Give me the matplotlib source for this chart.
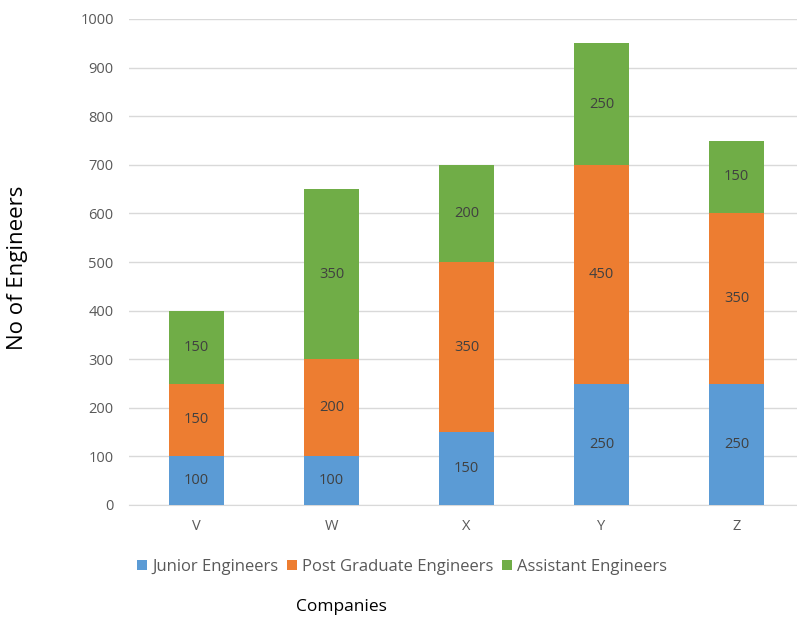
import matplotlib
matplotlib.use("Agg")
import matplotlib.pyplot as plt
import numpy as np

companies = ["V", "W", "X", "Y", "Z"]
junior = [100, 100, 150, 250, 250]
post_grad = [150, 200, 350, 450, 350]
assistant = [150, 350, 200, 250, 150]

series = [
    ("Junior Engineers", junior, "#5B9BD5"),
    ("Post Graduate Engineers", post_grad, "#ED7D31"),
    ("Assistant Engineers", assistant, "#70AD47"),
]

plt.rcParams["font.family"] = ["Open Sans", "DejaVu Sans"]
grey = "#595959"

fig = plt.figure(figsize=(7.97, 6.21), dpi=100)
ax = fig.add_axes([129 / 797, 116 / 621, 675 / 797, 486 / 621])

x = np.arange(len(companies))
bottom = np.zeros(len(companies))
handles = []
for name, vals, col in series:
    vals = np.array(vals, dtype=float)
    bars = ax.bar(x, vals, width=0.41, bottom=bottom, color=col, label=name, zorder=2)
    handles.append(bars)
    for xi, b, v in zip(x, bottom, vals):
        ax.text(xi, b + v / 2, f"{int(v)}", ha="center", va="center",
                fontsize=10.5, color="#404040", zorder=3)
    bottom += vals

ax.set_xlim(-0.5, len(companies) - 0.5)
ax.set_ylim(0, 1000)
ax.set_yticks(np.arange(0, 1001, 100))
ax.set_xticks(x, companies)
ax.grid(axis="y", color="#D9D9D9", linewidth=1, zorder=0)
ax.set_axisbelow(True)
for s in ["top", "right", "left"]:
    ax.spines[s].set_visible(False)
ax.spines["bottom"].set_color("#D9D9D9")
ax.spines["bottom"].set_zorder(1)
ax.tick_params(axis="both", length=0, labelsize=10.5, labelcolor=grey)
ax.tick_params(axis="y", pad=11)
ax.tick_params(axis="x", pad=10)

fig.text(18 / 797, 1 - 268 / 621, "No of Engineers", rotation=90, ha="center",
         va="center", fontsize=16, color="#000000")
fig.text(341 / 797, 1 - 607 / 621, "Companies", ha="center", va="center",
         fontsize=12.5, color="#000000")

fig.legend(handles=handles, loc="center", bbox_to_anchor=(402 / 797, 1 - 567 / 621),
           ncol=3, frameon=False, fontsize=12, labelcolor=grey,
           handlelength=0.6, handleheight=0.6, handletextpad=0.3, columnspacing=0.5)

fig.savefig("out.png", dpi=100)
